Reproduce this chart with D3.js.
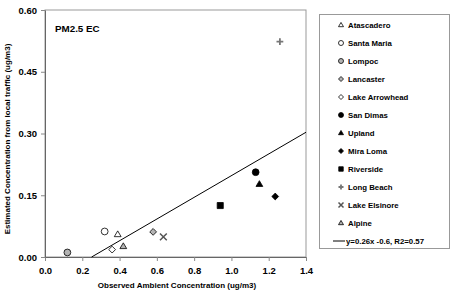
<!DOCTYPE html>
<html>
<head>
<meta charset="utf-8">
<script src="https://cdn.jsdelivr.net/npm/d3@7"></script>
<style>
  body { margin: 0; background: #fff; }
  text { font-family: "Liberation Sans", Arial, sans-serif; font-weight: bold; fill: #000; }
</style>
</head>
<body>
<svg id="chart" width="450" height="294"></svg>
<script>
// site names, marker kinds and fills
var sites = ['Atascadero', 'Santa Maria', 'Lompoc', 'Lancaster', 'Lake Arrowhead', 'San Dimas',
  'Upland', 'Mira Loma', 'Riverside', 'Long Beach', 'Lake Elsinore', 'Alpine']
var shapes = ['triangle', 'circle', 'circle', 'diamond', 'diamond', 'circle',
  'triangle', 'diamond', 'square', 'plus', 'cross', 'triangle']
var fills = ['#fff', '#fff', '#b4b4b4', '#b4b4b4', '#fff', '#000',
  '#000', '#000', '#000', '#777', '#555', '#b4b4b4']
// observed vs estimated (ug/m3)
var observed = [0.39, 0.32, 0.12, 0.58, 0.36, 1.13, 1.15, 1.235, 0.94, 1.26, 0.635, 0.42]
var estimated = [0.055, 0.062, 0.011, 0.061, 0.018, 0.206, 0.177, 0.147, 0.125, 0.523, 0.049, 0.026]
// fitted line end points
var trendX = [0.25, 1.4]
var trendY = [0, 0.303]
var trendLabel = 'y=0.26x -0.6, R2=0.57'
var xTicks = [0, 0.2, 0.4, 0.6, 0.8, 1.0, 1.2, 1.4]
var yTicks = [0, 0.15, 0.30, 0.45, 0.60]

var svg = d3.select('#chart')
var x = d3.scaleLinear().domain([0, 1.4]).range([45, 306])
var y = d3.scaleLinear().domain([0, 0.6]).range([257, 10])

// plot frame (grey top/right)
svg.append('rect')
  .attr('x', 45).attr('y', 10).attr('width', 261).attr('height', 247)
  .attr('fill', 'none').attr('stroke', '#999').attr('stroke-width', 1)

var xAxis = svg.append('g').attr('transform', 'translate(0,257)')
  .call(d3.axisBottom(x).tickValues(xTicks).tickFormat(d3.format('.1f')).tickSize(4).tickSizeOuter(0))
var yAxis = svg.append('g').attr('transform', 'translate(45,0)')
  .call(d3.axisLeft(y).tickValues(yTicks).tickFormat(d3.format('.2f')).tickSize(4).tickSizeOuter(0))
;[xAxis, yAxis].forEach(function (a) {
  a.selectAll('path, line').attr('stroke', '#888')
  a.selectAll('text').style('font-size', '9.5px').style('font-weight', 'bold')
})
xAxis.select('.domain').attr('stroke', '#666')
yAxis.select('.domain').attr('stroke', '#666')
xAxis.selectAll('text').attr('dy', '1.1em')
yAxis.selectAll('text').attr('dx', '-1px')

svg.append('text').attr('x', 177).attr('y', 288).attr('text-anchor', 'middle')
  .style('font-size', '8px').text('Observed Ambient Concentration (ug/m3)')
svg.append('text').attr('transform', 'translate(10,139) rotate(-90)').attr('text-anchor', 'middle')
  .style('font-size', '8px').text('Estimated Concentration from local traffic (ug/m3)')
svg.append('text').attr('x', 55).attr('y', 32).style('font-size', '9.8px').text('PM2.5 EC')

// trend line
svg.append('line')
  .attr('x1', x(trendX[0])).attr('y1', y(trendY[0]))
  .attr('x2', x(trendX[1])).attr('y2', y(trendY[1]))
  .attr('stroke', '#000').attr('stroke-width', 1)

function drawMarker (g, shape, fill, s) {
  var d
  if (shape === 'plus') {
    g.append('path').attr('d', 'M' + (-s) + ',0H' + s + 'M0,' + (-s) + 'V' + s)
      .attr('stroke', fill).attr('stroke-width', 1.8)
    return
  }
  if (shape === 'cross') {
    g.append('path').attr('d', 'M' + (-s) + ',' + (-s) + 'L' + s + ',' + s + 'M' + (-s) + ',' + s + 'L' + s + ',' + (-s))
      .attr('stroke', fill).attr('stroke-width', 1.5)
    return
  }
  if (shape === 'circle') d = d3.symbol().type(d3.symbolCircle).size(Math.PI * s * s)()
  if (shape === 'square') d = d3.symbol().type(d3.symbolSquare).size(3.2 * s * s)()
  if (shape === 'diamond') d = 'M0,' + (-s) + 'L' + s + ',0L0,' + s + 'L' + (-s) + ',0Z'
  if (shape === 'triangle') {
    var h = s * 1.7
    d = 'M0,' + (-h * 0.6) + 'L' + s + ',' + (h * 0.4) + 'L' + (-s) + ',' + (h * 0.4) + 'Z'
  }
  g.append('path').attr('d', d)
    .attr('fill', fill).attr('stroke', '#000').attr('stroke-width', 0.8)
}

sites.forEach(function (name, i) {
  var g = svg.append('g').attr('transform', 'translate(' + x(observed[i]) + ',' + y(estimated[i]) + ')')
  drawMarker(g, shapes[i], fills[i], 3.4)
})

// legend
var lg = svg.append('g')
lg.append('rect').attr('x', 319.5).attr('y', 14.5).attr('width', 130).attr('height', 234)
  .attr('fill', '#fff').attr('stroke', '#999')
var rowY = d3.scaleLinear().domain([0, 12]).range([25, 241])
sites.forEach(function (name, i) {
  var g = lg.append('g').attr('transform', 'translate(341,' + rowY(i) + ')')
  drawMarker(g, shapes[i], fills[i], 2.5)
  lg.append('text').attr('x', 348).attr('y', rowY(i) + 2.8).style('font-size', '7.8px').text(name)
})
lg.append('line').attr('x1', 333).attr('x2', 345).attr('y1', rowY(12)).attr('y2', rowY(12))
  .attr('stroke', '#000')
lg.append('text').attr('x', 346).attr('y', rowY(12) + 2.8).style('font-size', '7.8px').text(trendLabel)
</script>
</body>
</html>
